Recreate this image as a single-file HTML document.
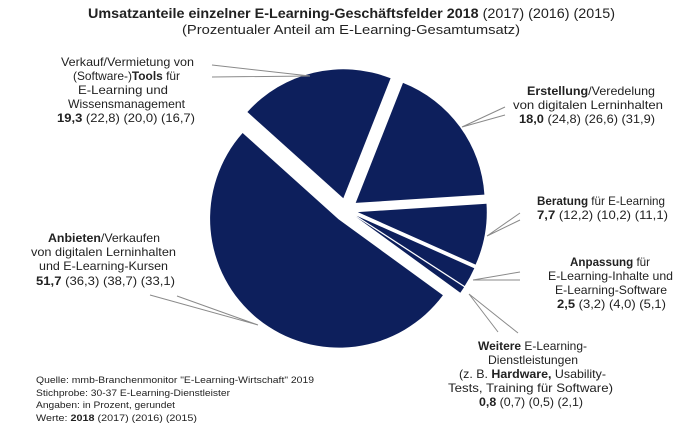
<!DOCTYPE html>
<html><head><meta charset="utf-8"><style>
html,body{margin:0;padding:0;background:#fff;}
svg{display:block;}
text{font-family:"Liberation Sans Narrow","Liberation Sans",sans-serif;fill:#222;}
</style></head><body>
<svg width="700" height="434" viewBox="0 0 700 434" xmlns="http://www.w3.org/2000/svg">
<g fill="#0d1f5c">
<path d="M338.5,219.3 L442.9,295.2 A129,129 0 1 1 242.6,133.0 Z"/>
<path d="M343.3,198.3 L247.4,112.0 A129,129 0 0 1 390.6,78.3 Z"/>
<path d="M355.7,202.9 L403.0,82.9 A129,129 0 0 1 484.4,194.6 Z"/>
<path d="M357.8,212.1 L486.5,203.8 A129,129 0 0 1 475.6,264.6 Z"/>
<path d="M356.5,215.7 L474.3,268.2 A129,129 0 0 1 464.7,286.0 Z"/>
<path d="M355.9,216.8 L464.1,287.1 A129,129 0 0 1 460.3,292.7 Z"/>
</g>
<g stroke="#8a8a8a" stroke-width="1" fill="none">
<path d="M212,65 L310,76 M212,77 L310,76"/>
<path d="M505,107 L462,127 M505,115 L462,127"/>
<path d="M520,213 L487,236 M520,220 L487,236"/>
<path d="M520,272 L473,280 M520,280 L473,280"/>
<path d="M469,294 L498,332 M469,294 L518,333"/>
<path d="M150,295 L258,325 M177,296 L258,325"/>
</g>
<text x="88" y="18" font-size="14" textLength="527" lengthAdjust="spacingAndGlyphs"><tspan font-weight="bold">Umsatzanteile einzelner  E-Learning-Geschäftsfelder 2018</tspan> (2017) (2016) (2015)</text>
<text x="182" y="34" font-size="13" textLength="338" lengthAdjust="spacingAndGlyphs">(Prozentualer Anteil am E-Learning-Gesamtumsatz)</text>

<g font-size="12">
<text x="61" y="66" textLength="133" lengthAdjust="spacingAndGlyphs">Verkauf/Vermietung von</text>
<text x="73" y="80" textLength="107" lengthAdjust="spacingAndGlyphs">(Software-)<tspan font-weight="bold">Tools</tspan> für</text>
<text x="78" y="94" textLength="90" lengthAdjust="spacingAndGlyphs">E-Learning und</text>
<text x="68" y="108" textLength="117" lengthAdjust="spacingAndGlyphs">Wissensmanagement</text>
<text x="57" y="122" textLength="138" lengthAdjust="spacingAndGlyphs"><tspan font-weight="bold">19,3</tspan> (22,8) (20,0) (16,7)</text>

<text x="527" y="95" textLength="128" lengthAdjust="spacingAndGlyphs"><tspan font-weight="bold">Erstellung</tspan>/Veredelung</text>
<text x="513" y="109" textLength="150" lengthAdjust="spacingAndGlyphs">von digitalen Lerninhalten</text>
<text x="519" y="123" textLength="136" lengthAdjust="spacingAndGlyphs"><tspan font-weight="bold">18,0</tspan> (24,8) (26,6) (31,9)</text>

<text x="537" y="205" textLength="128" lengthAdjust="spacingAndGlyphs"><tspan font-weight="bold">Beratung</tspan> für E-Learning</text>
<text x="537" y="219" textLength="131" lengthAdjust="spacingAndGlyphs"><tspan font-weight="bold">7,7</tspan> (12,2) (10,2) (11,1)</text>

<text x="570" y="266" textLength="80" lengthAdjust="spacingAndGlyphs"><tspan font-weight="bold">Anpassung</tspan> für</text>
<text x="548" y="280" textLength="125" lengthAdjust="spacingAndGlyphs">E-Learning-Inhalte und</text>
<text x="555" y="294" textLength="112" lengthAdjust="spacingAndGlyphs">E-Learning-Software</text>
<text x="557" y="308" textLength="109" lengthAdjust="spacingAndGlyphs"><tspan font-weight="bold">2,5</tspan> (3,2) (4,0) (5,1)</text>

<text x="478" y="350" textLength="109" lengthAdjust="spacingAndGlyphs"><tspan font-weight="bold">Weitere</tspan> E-Learning-</text>
<text x="488" y="364" textLength="90" lengthAdjust="spacingAndGlyphs">Dienstleistungen</text>
<text x="459" y="378" textLength="147" lengthAdjust="spacingAndGlyphs">(z. B. <tspan font-weight="bold">Hardware,</tspan> Usability-</text>
<text x="448" y="392" textLength="165" lengthAdjust="spacingAndGlyphs">Tests, Training für Software)</text>
<text x="479" y="406" textLength="104" lengthAdjust="spacingAndGlyphs"><tspan font-weight="bold">0,8</tspan> (0,7) (0,5) (2,1)</text>

<text x="48" y="242" textLength="112" lengthAdjust="spacingAndGlyphs"><tspan font-weight="bold">Anbieten</tspan>/Verkaufen</text>
<text x="31" y="256" textLength="145" lengthAdjust="spacingAndGlyphs">von digitalen Lerninhalten</text>
<text x="39" y="270" textLength="129" lengthAdjust="spacingAndGlyphs">und E-Learning-Kursen</text>
<text x="36" y="285" textLength="139" lengthAdjust="spacingAndGlyphs"><tspan font-weight="bold">51,7</tspan> (36,3) (38,7) (33,1)</text>
</g>

<g font-size="9.5">
<text x="36" y="383" textLength="278" lengthAdjust="spacingAndGlyphs">Quelle: mmb-Branchenmonitor "E-Learning-Wirtschaft" 2019</text>
<text x="36" y="396" textLength="194" lengthAdjust="spacingAndGlyphs">Stichprobe: 30-37 E-Learning-Dienstleister</text>
<text x="36" y="408" textLength="139" lengthAdjust="spacingAndGlyphs">Angaben: in Prozent, gerundet</text>
<text x="36" y="421" textLength="161" lengthAdjust="spacingAndGlyphs">Werte: <tspan font-weight="bold">2018</tspan> (2017) (2016) (2015)</text>
</g>
</svg>
</body></html>
